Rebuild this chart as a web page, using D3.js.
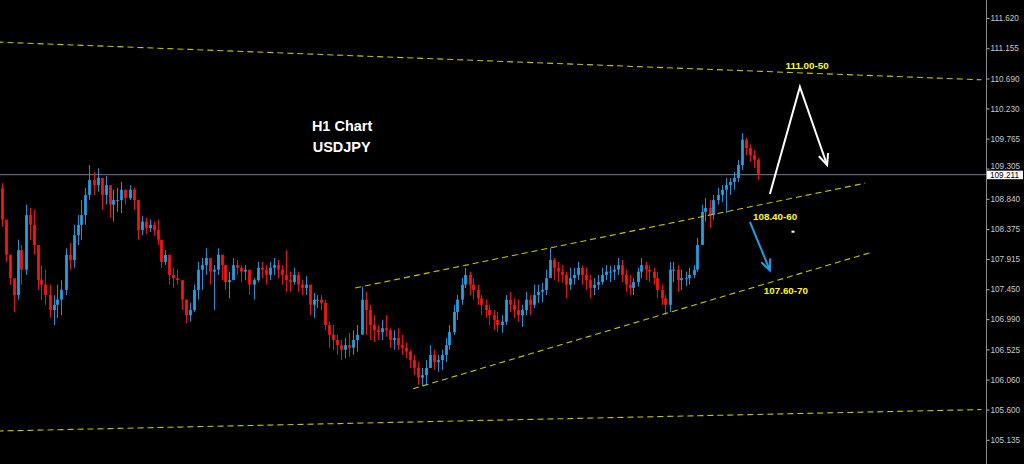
<!DOCTYPE html>
<html>
<head>
<meta charset="utf-8">
<script src="https://cdn.jsdelivr.net/npm/d3@7"></script>
<style>
html,body{margin:0;padding:0;background:#000;}
svg{display:block;}
</style>
</head>
<body>
<svg id="chart" width="1024" height="464"></svg>
<script>
// ---- data (USDJPY H1) ----
const firstOpen = 109.00;
const closes = [
108.52,107.98,107.62,107.36,108.05,107.75,108.59,108.44,108.13,107.59,107.52,107.36,107.13,107.21,107.29,107.44,107.98,107.90,108.28,108.44,
108.59,108.90,109.13,109.05,109.16,108.90,109.05,108.75,108.82,108.82,108.98,108.85,108.98,108.82,108.36,108.49,108.39,108.44,108.36,108.21,
107.87,107.98,107.67,107.62,107.59,107.29,107.05,107.13,107.44,107.75,107.82,107.93,107.72,107.75,107.98,107.82,107.56,107.59,107.82,107.78,
107.72,107.75,107.52,107.59,107.78,107.75,107.67,107.78,107.82,107.75,107.67,107.59,107.56,107.67,107.52,107.47,107.52,107.21,107.29,107.29,
107.24,106.90,106.75,106.67,106.59,106.52,106.59,106.55,106.67,106.75,107.29,107.13,106.90,106.82,106.79,106.85,106.82,106.67,106.70,106.59,
106.55,106.49,106.36,106.24,106.09,106.13,106.24,106.44,106.33,106.36,106.44,106.59,106.79,107.10,107.29,107.52,107.67,107.52,107.44,107.31,
107.21,107.13,107.05,106.98,106.90,106.95,107.29,107.21,107.13,107.05,107.13,107.29,107.21,107.36,107.41,107.44,107.62,107.90,107.78,107.72,
107.67,107.52,107.62,107.67,107.78,107.67,107.59,107.47,107.52,107.56,107.67,107.72,107.72,107.75,107.82,107.67,107.52,107.47,107.56,107.72,
107.82,107.75,107.72,107.62,107.44,107.31,107.21,107.75,107.75,107.59,107.62,107.62,107.67,107.75,108.13,108.64,108.70,108.59,108.82,108.90,
108.98,109.05,109.10,109.16,109.36,109.75,109.62,109.51,109.44,109.211
];
const highs = [
109.08,108.44,107.98,107.59,108.21,108.13,108.75,108.70,108.67,108.05,107.82,107.75,107.52,107.36,107.52,107.59,108.08,108.16,108.44,108.59,
108.82,109.01,109.36,109.25,109.31,109.16,109.19,109.01,108.98,109.01,109.10,108.98,109.05,109.01,108.82,108.58,108.55,108.52,108.49,108.52,
108.21,108.05,107.93,107.78,107.75,107.59,107.29,107.24,107.52,107.87,107.93,108.08,107.87,107.82,108.08,107.98,107.82,107.72,107.93,107.90,
107.82,107.82,107.75,107.62,107.87,107.87,107.82,107.87,107.93,107.90,107.82,108.05,107.72,107.78,107.72,107.59,107.65,107.52,107.39,107.36,
107.36,107.29,106.95,106.90,106.75,106.67,106.70,106.78,106.82,106.90,107.49,107.41,107.21,107.05,106.90,106.98,107.05,106.85,106.82,106.85,
106.75,106.63,106.52,106.44,106.33,106.24,106.36,106.59,106.52,106.44,106.52,106.70,106.90,107.21,107.36,107.62,107.78,107.72,107.62,107.52,
107.36,107.29,107.21,107.13,107.10,107.05,107.36,107.41,107.31,107.29,107.21,107.41,107.36,107.52,107.52,107.55,107.75,108.08,107.93,107.87,
107.82,107.72,107.78,107.78,107.87,107.82,107.78,107.67,107.62,107.67,107.78,107.82,107.81,107.82,107.93,107.90,107.75,107.67,107.62,107.78,
107.93,107.87,107.82,107.78,107.72,107.52,107.36,107.87,107.87,107.82,107.75,107.72,107.78,107.82,108.24,108.75,108.85,108.82,108.90,109.01,
109.05,109.16,109.16,109.25,109.44,109.85,109.78,109.67,109.59,109.47
];
const lows = [
108.41,107.87,107.52,107.10,107.29,107.52,107.67,108.21,107.98,107.44,107.29,107.21,107.01,106.90,107.01,107.05,107.36,107.75,107.78,108.13,
108.21,108.44,108.82,108.90,108.95,108.67,108.75,108.55,108.49,108.64,108.62,108.75,108.82,108.67,108.21,108.28,108.30,108.33,108.27,108.13,
107.78,107.82,107.52,107.47,107.52,107.13,106.93,106.95,107.10,107.29,107.44,107.67,107.52,107.13,107.67,107.59,107.44,107.31,107.62,107.67,
107.56,107.59,107.36,107.29,107.56,107.62,107.52,107.59,107.67,107.62,107.52,107.41,107.41,107.52,107.41,107.36,107.36,107.05,107.01,107.16,
107.13,106.82,106.55,106.52,106.44,106.36,106.39,106.41,106.44,106.49,106.82,106.75,106.67,106.64,106.67,106.67,106.72,106.55,106.52,106.52,
106.44,106.39,106.24,106.13,105.98,105.96,105.98,106.24,106.21,106.18,106.21,106.33,106.52,106.75,106.98,107.21,107.47,107.36,107.29,107.21,
107.05,107.01,106.90,106.82,106.79,106.78,106.90,107.10,107.01,106.95,106.87,107.05,107.05,107.16,107.24,107.25,107.36,107.67,107.59,107.56,
107.55,107.31,107.44,107.52,107.59,107.52,107.44,107.31,107.36,107.44,107.52,107.59,107.56,107.59,107.67,107.56,107.41,107.36,107.36,107.49,
107.62,107.59,107.56,107.52,107.31,107.21,107.05,107.10,107.56,107.41,107.44,107.50,107.52,107.62,107.72,108.13,108.49,108.39,108.52,108.75,
108.79,108.62,108.90,108.98,109.10,109.28,109.51,109.41,109.31,109.13
];
const priceTicks = [111.620,111.155,110.690,110.230,109.765,109.305,108.840,108.375,107.915,107.450,106.990,106.525,106.060,105.600,105.135];
const currentPrice = 109.211;
// trendlines: [bar index, price]
const lineTop     = [[-1, 111.25], [245, 110.67]];
const lineBottom  = [[-1, 105.27], [245, 105.60]];
const chanUpper   = [[88.4, 107.47], [215.9, 109.08]];
const chanLower   = [[102.9, 105.92], [217.6, 108.02]];
const whiteArrow  = [[192.1, 108.915], [199.6, 110.56], [206.4, 109.36]];
const blueArrow   = [[187.1, 108.485], [192.1, 107.74]];
const labels = [
  {text:"111.00-50", i:201.4, p:110.83, color:"#ffff00", size:9.8, anchor:"middle"},
  {text:"108.40-60", i:193.4, p:108.52, color:"#ffff00", size:9.8, anchor:"middle"},
  {text:"107.60-70", i:196.1, p:107.38, color:"#ffff00", size:9.8, anchor:"middle"},
  {text:"H1 Chart",  i:77.6,  p:109.88, color:"#ffffff", size:14.5, anchor:"start"},
  {text:"USDJPY",    i:77.8,  p:109.56, color:"#ffffff", size:14.5, anchor:"start"}
];
const smallMark = [197.5, 108.35];

// ---- build ----
const W = 1024, H = 464, axisX = 986;
const svg = d3.select("#chart");
svg.append("rect").attr("width", W).attr("height", H).attr("fill", "#000");

const n = closes.length;
const x = d3.scaleLinear().domain([0, n - 1]).range([1.5, 1.5 + (n - 1) * 4]);
const y = d3.scaleLinear().domain([105.135, 111.62]).range([439.8, 18.0]);

const candles = closes.map((c, i) => ({
  i, o: i === 0 ? firstOpen : closes[i - 1], h: highs[i], l: lows[i], c
}));

const UP = "#22a4ea", DN = "#ff1414";
svg.append("clipPath").attr("id", "clip").append("rect").attr("width", axisX).attr("height", H);
const plot = svg.append("g").attr("clip-path", "url(#clip)");

// current price line
plot.append("line").attr("x1", 0).attr("x2", axisX)
  .attr("y1", y(currentPrice)).attr("y2", y(currentPrice))
  .attr("stroke", "#75808f").attr("stroke-width", 1);

// candles
const cg = plot.append("g");
cg.selectAll("line.wick").data(candles).join("line")
  .attr("x1", d => Math.round(x(d.i)) + 0.5).attr("x2", d => Math.round(x(d.i)) + 0.5)
  .attr("y1", d => y(d.h)).attr("y2", d => y(d.l))
  .attr("stroke", d => d.c >= d.o ? UP : DN).attr("stroke-width", 1).attr("opacity", 0.9);
cg.selectAll("rect.body").data(candles).join("rect")
  .attr("x", d => Math.round(x(d.i)) - 1).attr("width", 3)
  .attr("y", d => y(Math.max(d.o, d.c)))
  .attr("height", d => Math.max(1, Math.abs(y(d.o) - y(d.c))))
  .attr("fill", d => d.c >= d.o ? UP : DN).attr("opacity", 0.85);

// trendlines
const lineGen = d3.line().x(d => x(d[0])).y(d => y(d[1]));
[lineTop, lineBottom, chanUpper, chanLower].forEach(l => {
  plot.append("path").attr("d", lineGen(l)).attr("fill", "none")
    .attr("stroke", "#c8c400").attr("stroke-width", 1.1).attr("stroke-dasharray", "6,4");
});

// arrows
function arrow(pts, color) {
  plot.append("path").attr("d", lineGen(pts)).attr("fill", "none")
    .attr("stroke", color).attr("stroke-width", 2).attr("stroke-linejoin", "miter");
  const a = pts[pts.length - 2], b = pts[pts.length - 1];
  const ax = x(a[0]), ay = y(a[1]), bx = x(b[0]), by = y(b[1]);
  const ang = Math.atan2(by - ay, bx - ax), L = 12, s = 0.42;
  const p1 = [bx - L * Math.cos(ang - s), by - L * Math.sin(ang - s)];
  const p2 = [bx - L * Math.cos(ang + s), by - L * Math.sin(ang + s)];
  plot.append("path").attr("d", `M${p1}L${bx},${by}L${p2}`).attr("fill", "none")
    .attr("stroke", color).attr("stroke-width", 2);
}
arrow(whiteArrow, "#ffffff");
arrow(blueArrow, "#1e9ee6");

plot.append("rect").attr("x", x(smallMark[0])).attr("y", y(smallMark[1]))
  .attr("width", 3).attr("height", 2).attr("fill", "#ffffff");

// labels
svg.selectAll("text.lbl").data(labels).join("text")
  .attr("x", d => x(d.i)).attr("y", d => y(d.p))
  .attr("text-anchor", d => d.anchor)
  .attr("fill", d => d.color)
  .attr("font-family", "Liberation Sans, Arial, sans-serif")
  .attr("font-weight", "bold").attr("font-size", d => d.size)
  .text(d => d.text);

// axis
svg.append("line").attr("x1", axisX + 0.5).attr("x2", axisX + 0.5).attr("y1", 0).attr("y2", H)
  .attr("stroke", "#8c8c8c").attr("stroke-width", 1);
const axis = d3.axisRight(y).tickValues(priceTicks).tickSize(3).tickSizeOuter(0)
  .tickPadding(1).tickFormat(d3.format(".3f"));
const ag = svg.append("g").attr("transform", `translate(${axisX + 0.5},0)`).call(axis);
ag.select(".domain").remove();
ag.selectAll(".tick line").attr("stroke", "#b0b0b0");
ag.selectAll(".tick text").attr("fill", "#c8c8c8")
  .attr("font-family", "Liberation Sans, Arial, sans-serif").attr("font-size", 8.2)
  .attr("dy", d => Math.abs(y(d) - y(currentPrice)) < 9 ? "0.05em" : "0.32em");

// current price box
const cp = svg.append("g").attr("transform", `translate(${axisX},${y(currentPrice)})`);
cp.append("rect").attr("x", 1).attr("y", -4).attr("width", 36).attr("height", 8.5).attr("fill", "#ffffff");
cp.append("text").attr("x", 4).attr("y", 0).attr("dy", "0.36em")
  .attr("fill", "#000").attr("font-family", "Liberation Sans, Arial, sans-serif").attr("font-size", 8.2)
  .text(d3.format(".3f")(currentPrice));
</script>
</body>
</html>
